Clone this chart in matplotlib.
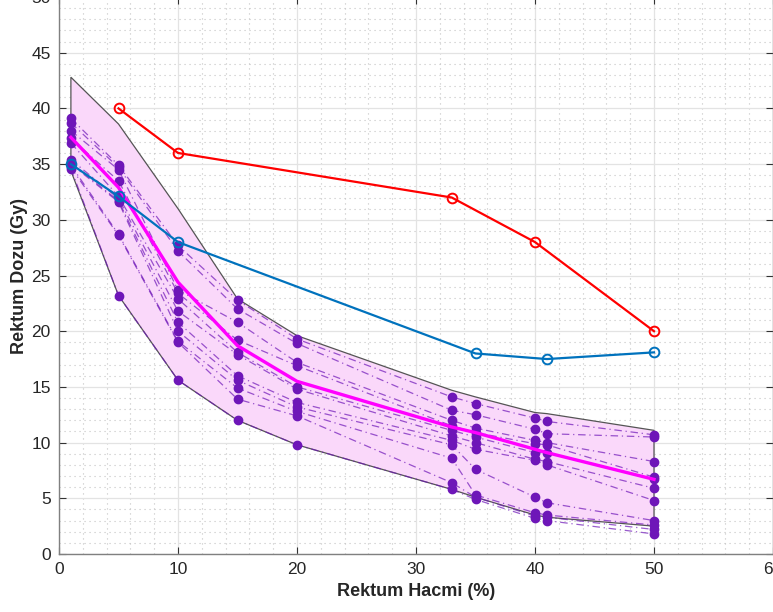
import numpy as np
import matplotlib.pyplot as plt
from matplotlib.ticker import MultipleLocator

plt.rcParams["font.family"] = ["Liberation Sans", "DejaVu Sans"]

# rectum volume (%) at which each patient's dose was sampled
volumes = [1, 5, 10, 15, 20, 33, 35, 40, 41, 50]

# patient doses (Gy), one list per volume, sorted high -> low
dose_v1 = [39.1, 38.7, 38.0, 37.3, 36.9, 35.4, 35.1, 35.0, 34.9, 34.7, 34.6]
dose_v5 = [34.9, 34.7, 34.5, 33.5, 32.1, 31.9, 31.7, 31.6, 28.7, 28.6, 23.2]
dose_v10 = [27.7, 27.2, 23.7, 23.4, 22.9, 21.8, 20.8, 20.0, 19.1, 19.0, 15.6]
dose_v15 = [22.8, 22.0, 20.8, 19.2, 18.1, 17.9, 16.0, 15.6, 14.9, 13.9, 12.0]
dose_v20 = [19.3, 18.9, 17.2, 16.9, 15.0, 14.8, 13.6, 13.2, 12.8, 12.4, 9.8]
dose_v33 = [14.1, 12.9, 12.0, 11.5, 11.1, 10.6, 10.2, 9.8, 8.6, 6.4, 5.8]
dose_v35 = [13.5, 12.5, 11.3, 10.9, 10.5, 10.0, 9.4, 7.6, 5.3, 5.1, 4.9]
dose_v40 = [12.2, 11.2, 10.2, 9.9, 9.1, 8.5, 8.4, 5.1, 3.7, 3.4, 3.2]
dose_v41 = [11.9, 10.8, 10.0, 9.8, 9.1, 8.3, 8.0, 4.6, 3.5, 3.3, 3.0]
dose_v50 = [10.7, 10.5, 8.3, 6.9, 6.7, 5.9, 4.8, 3.0, 2.6, 2.2, 1.8]

# mean curve and envelope
mean_dose = [37.4, 32.9, 24.4, 18.7, 15.5, 11.4, 10.9, 9.4, 9.1, 6.7]
env_upper = [42.8, 38.6, 31.0, 22.9, 19.6, 14.7, 14.1, 12.7, 12.6, 11.1]
env_lower = [34.4, 23.2, 15.6, 12.0, 9.8, 5.8, 5.1, 3.5, 3.3, 2.5]

# constraint curves
red_vol = [5, 10, 33, 40, 50]
red_dose = [40, 36, 32, 28, 20]
blue_vol = [1, 5, 10, 35, 41, 50]
blue_dose = [35, 32.1, 28, 18, 17.5, 18.1]

PURPLE = "#6E16B8"

doses = np.array([dose_v1, dose_v5, dose_v10, dose_v15, dose_v20,
                  dose_v33, dose_v35, dose_v40, dose_v41, dose_v50])

fig = plt.figure(figsize=(7.73, 6.12), dpi=100)
ax = fig.add_axes([59 / 773, 58 / 612, 714 / 773, 557 / 612])

# envelope
poly_x = volumes + volumes[::-1]
poly_y = env_upper + env_lower[::-1]
ax.fill(poly_x, poly_y, facecolor="#FAD8FA", edgecolor="#555555",
        linewidth=0.9, zorder=2)

# patient curves
for k in range(doses.shape[1]):
    ax.plot(volumes, doses[:, k], linestyle=(0, (6, 3, 1, 3)), color=PURPLE,
            alpha=0.7, linewidth=0.9, zorder=3)
    ax.plot(volumes, doses[:, k], linestyle="none", marker="o",
            markersize=6, color=PURPLE, zorder=4)

ax.plot(volumes, mean_dose, color="#FF00FF", linewidth=2.4, zorder=5)
ax.plot(red_vol, red_dose, color="#FF0000", linewidth=1.6, marker="o",
        markersize=7, markerfacecolor="none", markeredgewidth=1.4, zorder=6)
ax.plot(blue_vol, blue_dose, color="#0072BD", linewidth=1.6, marker="o",
        markersize=7, markerfacecolor="none", markeredgewidth=1.4, zorder=6)

ax.set_xlim(0, 60)
ax.set_ylim(0, 50)
ax.xaxis.set_major_locator(MultipleLocator(10))
ax.xaxis.set_minor_locator(MultipleLocator(2))
ax.yaxis.set_major_locator(MultipleLocator(5))
ax.yaxis.set_minor_locator(MultipleLocator(1))
ax.grid(True, which="major", color="#E3E3E3", linewidth=0.9, zorder=0)
ax.grid(True, which="minor", color="#C4C4C4", linestyle=(0, (1, 3.5)),
        linewidth=0.8, zorder=0)
ax.set_axisbelow(True)
ax.tick_params(which="major", direction="in", length=5, top=True, right=True,
               labelsize=12.5, color="#333333", labelcolor="#262626", pad=6)
ax.tick_params(which="minor", length=0)
for s in ax.spines.values():
    s.set_color("#808080")
    s.set_linewidth(1.0)

ax.set_xlabel("Rektum Hacmi (%)", fontsize=13, fontweight="bold",
              color="#262626", labelpad=4)
ax.set_ylabel("Rektum Dozu (Gy)", fontsize=13, fontweight="bold",
              color="#262626", labelpad=2)

fig.savefig("out.png", dpi=100, facecolor="white")
